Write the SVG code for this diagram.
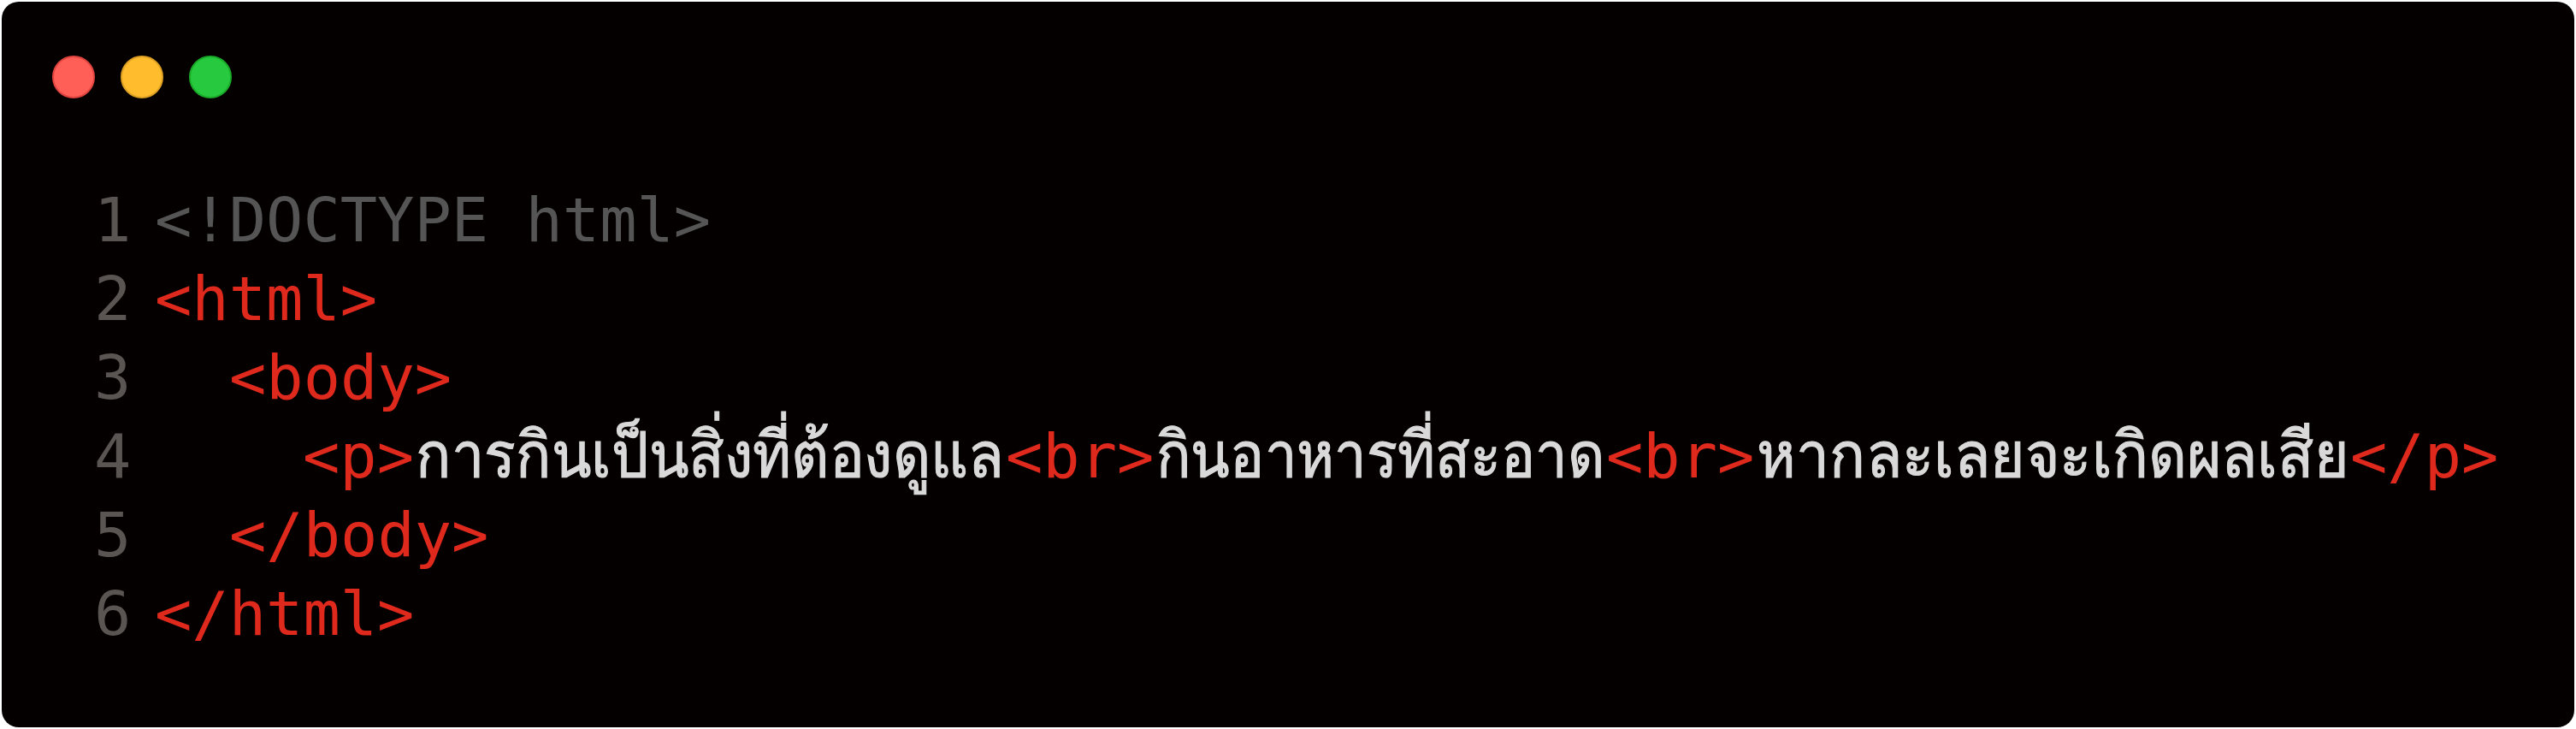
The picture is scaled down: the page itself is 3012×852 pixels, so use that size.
<svg xmlns="http://www.w3.org/2000/svg" width="3012" height="852" viewBox="0 0 3012 852">
<style>
text{font-family:"DejaVu Sans Mono",monospace;font-size:72px;white-space:pre}
.n{fill:#5a5552}.d{fill:#555}.r{fill:#e0291d}.w{font-size:75px;fill:#d9d9d9;stroke:#d9d9d9;stroke-width:1.2px}
</style>
<rect width="3012" height="852" fill="#fff"/>
<rect x="2" y="2" width="3008" height="848" rx="20" fill="#050000"/>
<g id="window-buttons">
<circle cx="86" cy="90" r="24" fill="#ff5f56" stroke="#e0443e" stroke-width="2"/>
<circle cx="166" cy="90" r="24" fill="#ffbd2e" stroke="#dea123" stroke-width="2"/>
<circle cx="246" cy="90" r="24" fill="#27c93f" stroke="#1aab29" stroke-width="2"/>
</g>
<g id="code">
<text x="110" y="282" class="n">1</text><text x="181" y="282" class="d">&lt;!DOCTYPE html&gt;</text>
<text x="110" y="374" class="n">2</text><text x="181" y="374" class="r">&lt;html&gt;</text>
<text x="110" y="466" class="n">3</text><text x="268" y="466" class="r">&lt;body&gt;</text>
<text x="110" y="558" class="n">4</text>
<text x="354" y="558" class="r">&lt;p&gt;</text>
<text transform="translate(486 558) scale(.917 1)" class="w" textLength="750" lengthAdjust="spacingAndGlyphs">การกินเป็นสิ่งที่ต้องดูแล</text>
<text x="1176" y="558" class="r">&lt;br&gt;</text>
<text transform="translate(1352 558) scale(.9 1)" class="w" textLength="582" lengthAdjust="spacingAndGlyphs">กินอาหารที่สะอาด</text>
<text x="1878" y="558" class="r">&lt;br&gt;</text>
<text transform="translate(2054 558) scale(.925 1)" class="w" textLength="748" lengthAdjust="spacingAndGlyphs">หากละเลยจะเกิดผลเสีย</text>
<text x="2748" y="558" class="r">&lt;/p&gt;</text>
<text x="110" y="650" class="n">5</text><text x="268" y="650" class="r">&lt;/body&gt;</text>
<text x="110" y="742" class="n">6</text><text x="181" y="742" class="r">&lt;/html&gt;</text>
</g>
</svg>
